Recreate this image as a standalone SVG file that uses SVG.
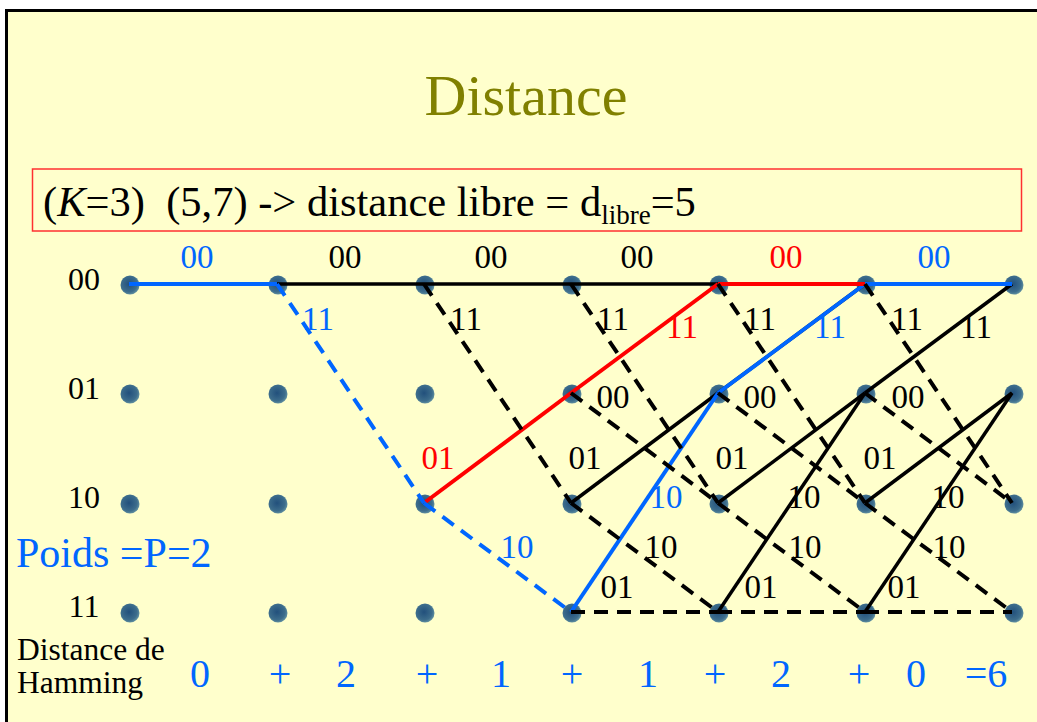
<svg xmlns="http://www.w3.org/2000/svg" width="1037" height="722" viewBox="0 0 1037 722">
<style>
text{font-family:"Liberation Serif","Times New Roman",serif;}
.lbl{font-size:33px;text-anchor:middle;fill:#000;}
.row{font-size:32px;text-anchor:middle;fill:#000;}
.b{fill:#0066FF;}
.r{fill:#FF0000;}
.s{stroke-width:3.5;fill:none;stroke-linecap:butt;}
.d{stroke-width:4;fill:none;stroke-dasharray:14 9;}
.k{stroke:#000;}
.sb{stroke:#0066FF;stroke-width:4;}
.sr{stroke:#FF0000;stroke-width:4;}
.sum{font-size:40px;fill:#0066FF;text-anchor:middle;}
</style>
<defs>
<radialGradient id="ng" cx="45%" cy="45%" r="60%">
<stop offset="0" stop-color="#22507c"/>
<stop offset="0.7" stop-color="#3d6d8c"/>
<stop offset="1" stop-color="#6b9aa6"/>
</radialGradient>
</defs>
<rect x="0" y="0" width="1037" height="722" fill="#FFFFFF"/>
<rect x="6" y="10" width="1031" height="712" fill="#FFFFCC"/>
<path d="M6.5 722 V10.5 H1037" fill="none" stroke="#000" stroke-width="3"/>

<text x="526" y="115" font-size="58" text-anchor="middle" fill="#808000">Distance</text>

<rect x="32.5" y="169" width="989" height="62" fill="none" stroke="#FF3030" stroke-width="1.5"/>
<text x="43" y="216" font-size="42.5" fill="#000" style="white-space:pre">(<tspan font-style="italic">K</tspan>=3)  (5,7) -&gt; distance libre = d<tspan font-size="27" dy="8">libre</tspan><tspan dy="-8">=5</tspan></text>

<g id="rowlabels">
<text class="row" x="84" y="290">00</text>
<text class="row" x="84" y="399">01</text>
<text class="row" x="84" y="508">10</text>
<text class="row" x="84" y="617">11</text>
</g>

<g id="nodes" fill="url(#ng)">
<g id="n00"><circle cx="130" cy="285" r="9.5"/><circle cx="278" cy="285" r="9.5"/><circle cx="425" cy="285" r="9.5"/><circle cx="572" cy="285" r="9.5"/><circle cx="719" cy="285" r="9.5"/><circle cx="866" cy="285" r="9.5"/><circle cx="1014" cy="285" r="9.5"/></g>
<g id="n01"><circle cx="130" cy="394" r="9.5"/><circle cx="278" cy="394" r="9.5"/><circle cx="425" cy="394" r="9.5"/><circle cx="572" cy="394" r="9.5"/><circle cx="719" cy="394" r="9.5"/><circle cx="866" cy="394" r="9.5"/><circle cx="1014" cy="394" r="9.5"/></g>
<g id="n10"><circle cx="130" cy="504" r="9.5"/><circle cx="278" cy="504" r="9.5"/><circle cx="425" cy="504" r="9.5"/><circle cx="572" cy="504" r="9.5"/><circle cx="719" cy="504" r="9.5"/><circle cx="866" cy="504" r="9.5"/><circle cx="1014" cy="504" r="9.5"/></g>
<g id="n11"><circle cx="130" cy="613" r="9.5"/><circle cx="278" cy="613" r="9.5"/><circle cx="425" cy="613" r="9.5"/><circle cx="572" cy="613" r="9.5"/><circle cx="719" cy="613" r="9.5"/><circle cx="866" cy="613" r="9.5"/><circle cx="1014" cy="613" r="9.5"/></g>
</g>

<g id="connectors">
<g class="s k">
<line x1="277" y1="284" x2="424" y2="284"/>
<line x1="424" y1="284" x2="571" y2="284"/>
<line x1="571" y1="284" x2="718" y2="284"/>
<line x1="571" y1="503" x2="718" y2="393"/>
<line x1="718" y1="393" x2="865" y2="284"/>
<line x1="718" y1="503" x2="865" y2="393"/>
<line x1="718" y1="612" x2="865" y2="393"/>
<line x1="865" y1="393" x2="1012" y2="284"/>
<line x1="865" y1="503" x2="1012" y2="393"/>
<line x1="865" y1="612" x2="1012" y2="393"/>
</g>
<g class="s sb">
<line x1="129" y1="284" x2="277" y2="284"/>
<line x1="571" y1="612" x2="718" y2="393"/>
<line x1="718" y1="393" x2="865" y2="284"/>
<line x1="865" y1="284" x2="1012" y2="284"/>
</g>
<g class="s sr">
<line x1="424" y1="503" x2="571" y2="393"/>
<line x1="571" y1="393" x2="718" y2="284"/>
<line x1="718" y1="284" x2="865" y2="284"/>
</g>
<g class="d k">
<line x1="424" y1="284" x2="571" y2="503"/>
<line x1="571" y1="284" x2="718" y2="503"/>
<line x1="571" y1="393" x2="718" y2="503"/>
<line x1="571" y1="503" x2="718" y2="612"/>
<line x1="571" y1="612" x2="718" y2="612"/>
<line x1="718" y1="284" x2="865" y2="503"/>
<line x1="718" y1="393" x2="865" y2="503"/>
<line x1="718" y1="503" x2="865" y2="612"/>
<line x1="718" y1="612" x2="865" y2="612"/>
<line x1="865" y1="284" x2="1012" y2="503"/>
<line x1="865" y1="393" x2="1012" y2="503"/>
<line x1="865" y1="503" x2="1012" y2="612"/>
<line x1="865" y1="612" x2="1012" y2="612"/>
</g>
<g class="d sb">
<line x1="277" y1="284" x2="424" y2="503"/>
<line x1="424" y1="503" x2="571" y2="612"/>
</g>
</g>

<g id="edgelabels">
<text class="lbl b" x="197" y="268">00</text>
<text class="lbl" x="345" y="268">00</text>
<text class="lbl" x="491" y="268">00</text>
<text class="lbl" x="637" y="268">00</text>
<text class="lbl r" x="786" y="268">00</text>
<text class="lbl b" x="934" y="268">00</text>

<text class="lbl b" x="318" y="330">11</text>
<text class="lbl" x="466" y="330">11</text>
<text class="lbl" x="613" y="330">11</text>
<text class="lbl" x="760" y="330">11</text>
<text class="lbl" x="907" y="330">11</text>

<text class="lbl r" x="682" y="338">11</text>
<text class="lbl b" x="830" y="338">11</text>
<text class="lbl" x="976" y="338">11</text>

<text class="lbl" x="613" y="408">00</text>
<text class="lbl" x="760" y="408">00</text>
<text class="lbl" x="908" y="408">00</text>

<text class="lbl r" x="438" y="469">01</text>
<text class="lbl" x="585" y="469">01</text>
<text class="lbl" x="732" y="469">01</text>
<text class="lbl" x="880" y="469">01</text>

<text class="lbl b" x="666" y="508">10</text>
<text class="lbl" x="804" y="508">10</text>
<text class="lbl" x="948" y="508">10</text>

<text class="lbl b" x="517" y="558">10</text>
<text class="lbl" x="661" y="558">10</text>
<text class="lbl" x="805" y="558">10</text>
<text class="lbl" x="949" y="558">10</text>

<text class="lbl" x="617" y="598">01</text>
<text class="lbl" x="761" y="598">01</text>
<text class="lbl" x="904" y="598">01</text>
</g>

<text x="16" y="567" font-size="42" fill="#0066FF">Poids =P=2</text>

<text x="17" y="660" font-size="31.5" fill="#000">Distance de</text>
<text x="17" y="693" font-size="31.5" fill="#000">Hamming</text>

<g id="sum">
<text class="sum" x="200" y="687">0</text>
<text class="sum" x="280" y="687">+</text>
<text class="sum" x="346" y="687">2</text>
<text class="sum" x="427" y="687">+</text>
<text class="sum" x="501" y="687">1</text>
<text class="sum" x="572" y="687">+</text>
<text class="sum" x="648" y="687">1</text>
<text class="sum" x="715" y="687">+</text>
<text class="sum" x="781" y="687">2</text>
<text class="sum" x="859" y="687">+</text>
<text class="sum" x="916" y="687">0</text>
<text class="sum" x="986" y="687">=6</text>
</g>
</svg>
